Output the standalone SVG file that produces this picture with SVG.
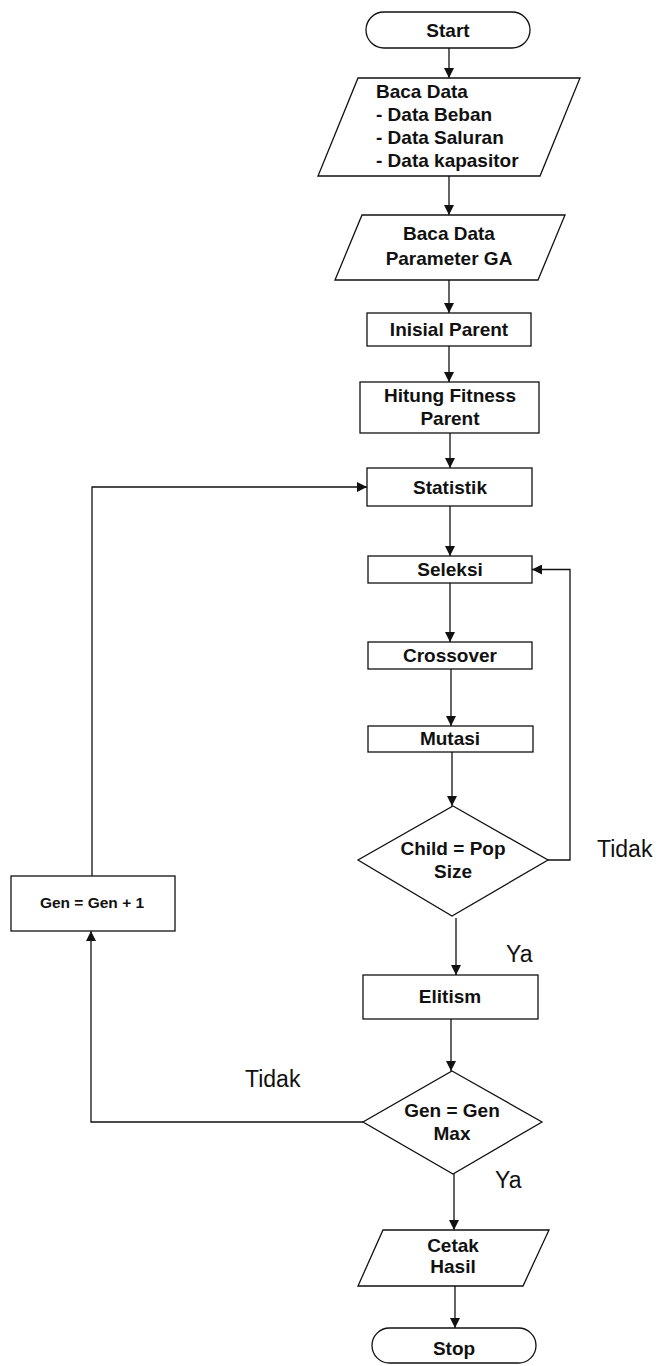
<svg xmlns="http://www.w3.org/2000/svg" width="658" height="1366" viewBox="0 0 658 1366">
<style>
.s{fill:#fff;stroke:#111;stroke-width:1.3}
.c{fill:none;stroke:#111;stroke-width:1.3}
.t{font-family:"Liberation Sans",Arial,sans-serif;font-weight:bold;font-size:19px;fill:#111;text-anchor:middle}
.tl{font-family:"Liberation Sans",Arial,sans-serif;font-weight:bold;font-size:19px;fill:#111}
.lb{font-family:"Liberation Sans",Arial,sans-serif;font-size:23px;fill:#111}
</style>
<defs>
<marker id="a" viewBox="0 0 10 10" refX="10" refY="5" markerWidth="10" markerHeight="10" markerUnits="userSpaceOnUse" orient="auto"><path d="M0,0L10,5L0,10z" fill="#111"/></marker>
</defs>
<rect width="658" height="1366" fill="#fff"/>
<g id="connectors">
<path class="c" d="M449,48V78" marker-end="url(#a)"/>
<path class="c" d="M449,176V215" marker-end="url(#a)"/>
<path class="c" d="M449,280V313" marker-end="url(#a)"/>
<path class="c" d="M449,346V382" marker-end="url(#a)"/>
<path class="c" d="M450,433V468" marker-end="url(#a)"/>
<path class="c" d="M450,506V556" marker-end="url(#a)"/>
<path class="c" d="M450,583V642" marker-end="url(#a)"/>
<path class="c" d="M451,669V726" marker-end="url(#a)"/>
<path class="c" d="M452,752V806" marker-end="url(#a)"/>
<path class="c" d="M548,860H570V569.5H532" marker-end="url(#a)"/>
<path class="c" d="M456,918V975" marker-end="url(#a)"/>
<path class="c" d="M451,1019V1071" marker-end="url(#a)"/>
<path class="c" d="M363,1122H91V931" marker-end="url(#a)"/>
<path class="c" d="M92,876V487H367" marker-end="url(#a)"/>
<path class="c" d="M454,1174V1230" marker-end="url(#a)"/>
<path class="c" d="M455,1286V1328" marker-end="url(#a)"/>
<text class="lb" x="597" y="857">Tidak</text>
<text class="lb" x="506" y="962">Ya</text>
<text class="lb" x="245" y="1087">Tidak</text>
<text class="lb" x="495" y="1188">Ya</text>
</g>
<g id="start"><rect class="s" x="366" y="12" width="164" height="36" rx="18"/><text class="t" x="448" y="37">Start</text></g>
<g id="baca-data"><path class="s" d="M358,78H580L540,176H318Z"/>
<text class="tl" x="376" y="98">Baca Data</text>
<text class="tl" x="376" y="121">- Data Beban</text>
<text class="tl" x="376" y="144">- Data Saluran</text>
<text class="tl" x="376" y="167">- Data kapasitor</text></g>
<g id="baca-param"><path class="s" d="M362,215H565L538,280H335Z"/>
<text class="t" x="449" y="240">Baca Data</text><text class="t" x="449" y="265">Parameter GA</text></g>
<g id="inisial"><rect class="s" x="367" y="313" width="164" height="33"/><text class="t" x="449" y="336">Inisial Parent</text></g>
<g id="hitung"><rect class="s" x="360" y="382" width="179" height="51"/><text class="t" x="450" y="402">Hitung Fitness</text><text class="t" x="450" y="425">Parent</text></g>
<g id="statistik"><rect class="s" x="367" y="468" width="165" height="38"/><text class="t" x="450" y="494">Statistik</text></g>
<g id="seleksi"><rect class="s" x="368" y="556" width="164" height="27"/><text class="t" x="450" y="576">Seleksi</text></g>
<g id="crossover"><rect class="s" x="368" y="642" width="164" height="27"/><text class="t" x="450" y="662">Crossover</text></g>
<g id="mutasi"><rect class="s" x="368" y="726" width="165" height="26"/><text class="t" x="450" y="745">Mutasi</text></g>
<g id="child"><path class="s" d="M453,806L548,860L452,916L358,860Z"/><text class="t" x="453" y="855">Child = Pop</text><text class="t" x="453" y="878">Size</text></g>
<g id="elitism"><rect class="s" x="363" y="975" width="175" height="44"/><text class="t" x="450" y="1003">Elitism</text></g>
<g id="genmax"><path class="s" d="M452,1071L542,1122L453,1174L363,1122Z"/><text class="t" x="452" y="1117">Gen = Gen</text><text class="t" x="452" y="1140">Max</text></g>
<g id="gen-inc"><rect class="s" x="11" y="876" width="164" height="55"/><text class="t" x="92" y="908" style="font-size:15.5px">Gen = Gen + 1</text></g>
<g id="cetak"><path class="s" d="M383,1230H549L523,1286H358Z"/><text class="t" x="453" y="1252">Cetak</text><text class="t" x="453" y="1273">Hasil</text></g>
<g id="stop"><rect class="s" x="372" y="1328" width="164" height="35" rx="17.5"/><text class="t" x="454" y="1355">Stop</text></g>
</svg>
